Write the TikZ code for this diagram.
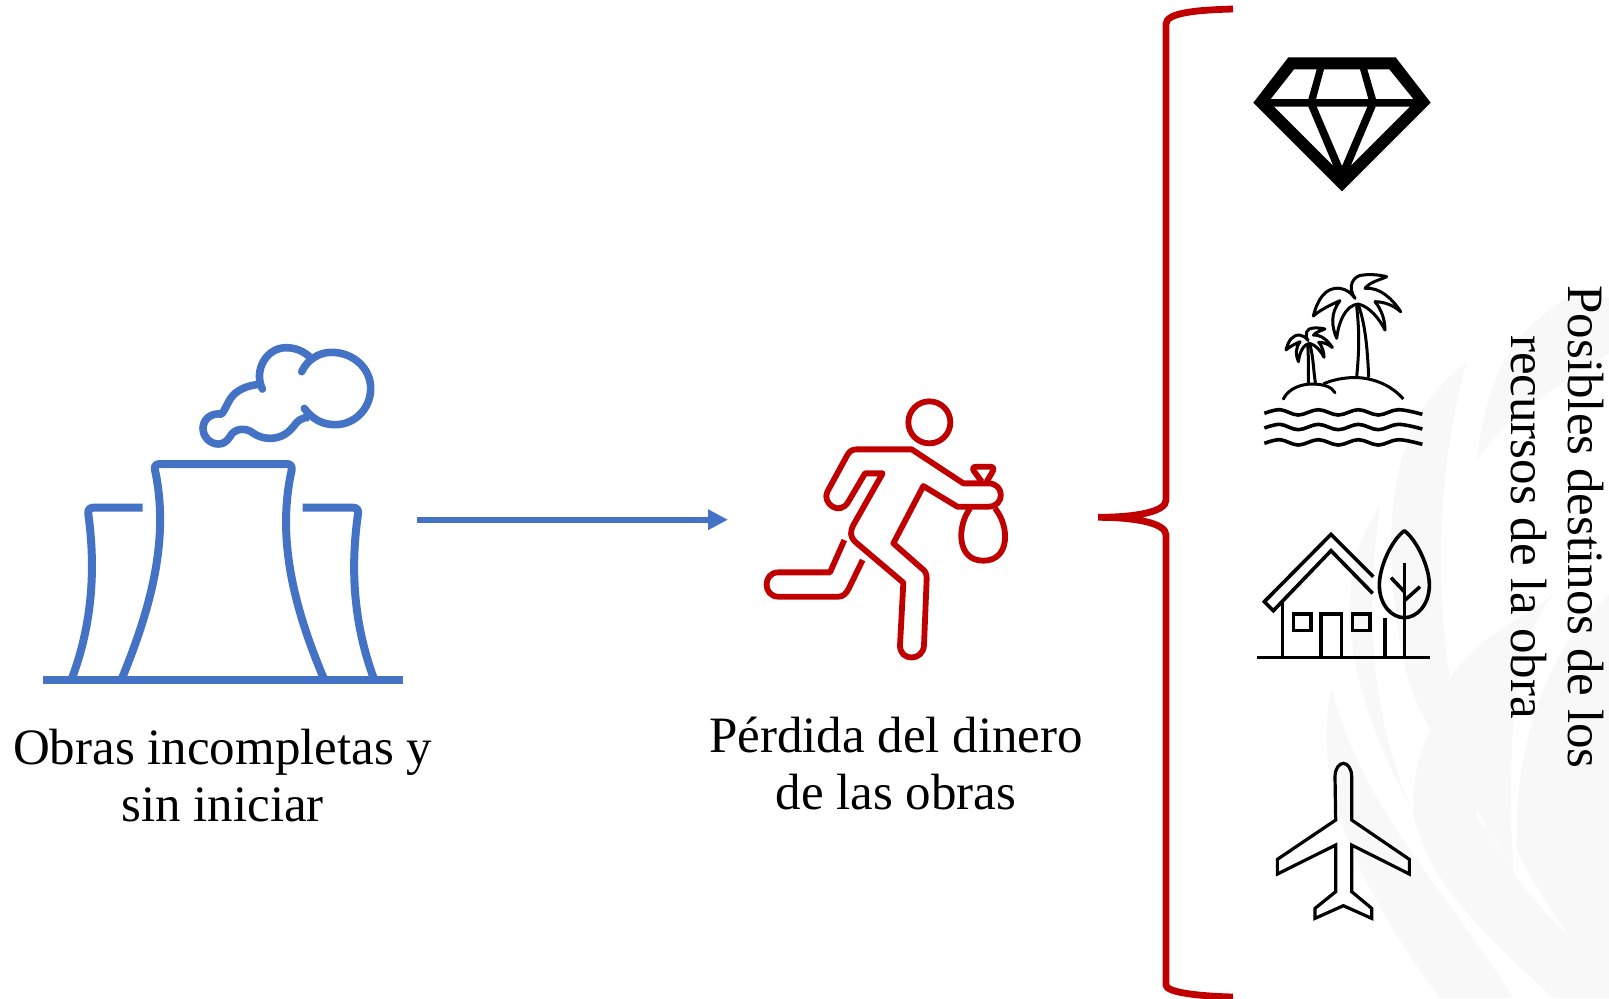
\documentclass[tikz,border=0pt]{standalone}
\usepackage{fontspec}
\setmainfont{Liberation Serif}
\usetikzlibrary{arrows.meta}
\definecolor{planblue}{HTML}{4472C4}
\definecolor{thiefred}{HTML}{C00000}
\definecolor{wm}{HTML}{F8F8F8}
\tikzset{
  plantline/.style={draw=planblue,line width=4pt,line join=round},
  smokeline/.style={draw=planblue,line width=3.8pt,line join=round,line cap=round},
  thiefline/.style={draw=thiefred,line width=2.9pt,line join=round},
  iconline/.style={draw=black,line width=1.8pt,line join=miter},
  palmline/.style={draw=black,line width=1.5pt,line join=round,line cap=round},
  label/.style={font=\fontsize{25.5}{28.5}\selectfont,align=center,inner sep=0pt,text=black},
  wmleaf/.style={fill=wm,draw=none},
}
\newcommand{\palmicon}{%
  \draw[palmline]
    (375,805) .. controls (350,770) and (370,735) .. (400,735)
    .. controls (425,732) and (450,735) .. (470,740)
    .. controls (450,750) and (420,755) .. (405,775)
    .. controls (450,770) and (490,810) .. (512,845)
    .. controls (490,825) and (460,815) .. (435,815)
    .. controls (455,840) and (465,870) .. (465,900)
    .. controls (450,870) and (420,830) .. (385,822)
    .. controls (345,825) and (325,880) .. (320,925)
    .. controls (305,890) and (300,850) .. (330,812)
    .. controls (300,825) and (270,840) .. (250,858)
    .. controls (262,810) and (285,770) .. (330,775)
    .. controls (350,778) and (365,790) .. (375,805);
}
\begin{document}
\begin{tikzpicture}[x=0.5pt,y=-0.5pt]
\useasboundingbox (0,0) rectangle (1609,998);
\fill[white] (0,0) rectangle (1609,998);
% watermark
\begin{scope}[shift={(1300,270)},x=0.16667pt,y=-0.2321pt]
  \clip (-100,0) rectangle (927,1568);
  \fill[wmleaf] (95,900) .. controls (50,1050) and (90,1250) .. (420,1568) -- (640,1568)
     .. controls (400,1300) and (180,1150) .. (95,900) -- cycle;
  \fill[wmleaf] (240,510) .. controls (110,640) and (100,850) .. (340,1170)
     .. controls (330,1030) and (440,900) .. (520,900)
     .. controls (520,1000) and (500,1200) .. (560,1200)
     .. controls (640,1320) and (800,1450) .. (927,1500) -- (927,1568) -- (760,1568)
     .. controls (500,1400) and (380,1300) .. (340,1170)
     .. controls (200,950) and (200,700) .. (240,510) -- cycle;
  \fill[wmleaf] (500,200) .. controls (300,300) and (230,500) .. (300,800)
     .. controls (330,960) and (450,1050) .. (640,1300)
     .. controls (620,1000) and (640,800) .. (760,700)
     .. controls (640,760) and (520,800) .. (450,880)
     .. controls (400,650) and (420,400) .. (500,200) -- cycle;
  \fill[wmleaf] (800,60) .. controls (600,150) and (560,260) .. (530,410)
     .. controls (640,300) and (760,260) .. (927,180) -- (927,700)
     .. controls (760,800) and (640,1000) .. (650,1250)
     .. controls (800,1450) and (880,1500) .. (927,1520) -- (927,60) -- cycle;
\end{scope}
% plant
\coordinate (plantanchor) at (417,519.7);
\coordinate (thiefanchor) at (728,519.7);
\draw[plantline] (42.7,680) -- (402.7,680);
\draw[plantline] (121.7,679) .. controls (150,610) and (170,540) .. (155,470)
   .. controls (154,466) and (156,464) .. (160,464) -- (286.7,464)
   .. controls (290.7,464) and (292,466) .. (291.7,470)
   .. controls (276,540) and (295,610) .. (324,679);
\draw[plantline] (142.7,507.7) -- (93.3,507.7)
   .. controls (89.5,507.7) and (87.8,510) .. (88.3,514)
   .. controls (96,570) and (92,625) .. (71.7,679);
\draw[plantline] (302.7,507.7) -- (353.3,507.7)
   .. controls (357,507.7) and (358.5,510) .. (358,514)
   .. controls (350,570) and (354,625) .. (374,679);
\begin{scope}[shift={(20,320)},x=0.16667pt,y=-0.16667pt]
  \draw[smokeline] (727,207) .. controls (700,150) and (740,83) .. (798,83) .. controls (825,83) and (850,93) .. (868,110);
  \draw[smokeline] (845,155) .. controls (862,120) and (895,97) .. (935,97)
     .. controls (1000,97) and (1052,145) .. (1052,205)
     .. controls (1052,265) and (1005,314) .. (945,314)
     .. controls (905,314) and (875,295) .. (853,265);
  \draw[smokeline,line cap=butt] (868,293) .. controls (845,290) and (830,305) .. (820,320)
     .. controls (800,345) and (775,355) .. (750,355)
     .. controls (720,355) and (700,340) .. (690,333)
     .. controls (665,322) and (640,330) .. (630,350)
     .. controls (620,365) and (610,372) .. (595,372)
     .. controls (570,372) and (549,350) .. (549,325)
     .. controls (549,300) and (570,278) .. (605,282)
     .. controls (620,262) and (625,240) .. (640,225)
     .. controls (660,205) and (690,195) .. (720,193);
\end{scope}
% arrow
\draw[draw=planblue,line width=3.1pt,-{Triangle[length=10pt,width=9.7pt]}] (plantanchor) -- (thiefanchor);
% thief
\begin{scope}[shift={(740,380)},x=0.16667pt,y=-0.16667pt]
  \node[circle,draw=thiefred,line width=2.9pt,minimum size=21pt,inner sep=0pt] (thiefhead) at (568,127) {};
  \draw[thiefline] (670,310) -- (515,208) -- (350,208)
     .. controls (335,208) and (328,215) .. (322,225) -- (262,335)
     .. controls (245,370) and (300,410) .. (325,365) -- (375,280) -- (428,280) -- (340,435)
     .. controls (330,455) and (330,470) .. (345,485) -- (490,608) -- (480,795)
     .. controls (478,845) and (550,845) .. (552,795) -- (560,595)
     .. controls (560,580) and (555,572) .. (545,565) -- (460,490) -- (550,318) -- (652,380) -- (745,380)
     .. controls (795,380) and (795,310) .. (745,310) -- cycle;
  \draw[thiefline] (313,480) -- (270,577) -- (115,577)
     .. controls (68,577) and (68,650) .. (115,650) -- (295,650)
     .. controls (310,650) and (318,640) .. (325,628) -- (368,540);
  \draw[thiefline] (725,305) -- (703,275) .. controls (695,265) and (700,260) .. (710,260) -- (750,260)
     .. controls (762,260) and (762,268) .. (757,276) -- (740,305);
  \draw[thiefline] (690,385) .. controls (650,440) and (650,542) .. (730,542)
     .. controls (810,542) and (810,440) .. (765,385);
\end{scope}
% brace
\draw[draw=thiefred,line width=3.4pt] (1233,9) .. controls (1195,10) and (1166,13) .. (1166,24) -- (1166,500)
   .. controls (1166,512) and (1135,517.3) .. (1098,517.3)
   .. controls (1135,517.3) and (1166,523) .. (1166,535) -- (1166,985)
   .. controls (1166,992) and (1195,996) .. (1233,997);
% diamond
\begin{scope}[shift={(1230,30)},x=0.16667pt,y=-0.16667pt]
  \fill[black,even odd rule] (175,82) -- (497,82) -- (602,218) -- (336,484) -- (70,218) -- cycle
    (192,118) -- (260,118) -- (235,207) -- (122,207) -- cycle
    (282,118) -- (390,118) -- (415,207) -- (258,207) -- cycle
    (412,118) -- (478,118) -- (550,207) -- (438,207) -- cycle
    (132,230) -- (235,230) -- (310,408) -- cycle
    (260,230) -- (412,230) -- (336,408) -- cycle
    (437,230) -- (540,230) -- (362,408) -- cycle;
  % palms
  \palmicon
  \begin{scope}[shift={(237,942)},scale=.53,shift={(-380,-825)}]
    \palmicon
  \end{scope}
  \draw[palmline] (380,1040) .. controls (388,960) and (388,900) .. (380,830);
  \draw[palmline] (416,1040) .. controls (412,950) and (405,880) .. (385,825);
  \draw[palmline] (235,1060) .. controls (235,1020) and (236,980) .. (233,945);
  \draw[palmline] (256,1058) .. controls (250,1020) and (250,980) .. (240,945);
  \draw[palmline,line cap=butt] (520,1107) .. controls (470,1050) and (400,1040) .. (360,1043) .. controls (330,1045) and (300,1052) .. (280,1062);
  \draw[palmline] (160,1107) .. controls (175,1075) and (215,1062) .. (245,1062) .. controls (280,1062) and (305,1070) .. (315,1088);
  \foreach \yy in {1150,1194,1240}{
    \draw[palmline,line width=1.8pt,line cap=butt] plot[smooth,tension=.6] coordinates {(103,\yy) (150,\yy-11) (205,\yy+5) (265,\yy-11) (325,\yy+5) (385,\yy-11) (445,\yy+5) (505,\yy-11) (577,\yy+3)};
  }
\end{scope}
% house and plane
\begin{scope}[shift={(1230,510)},x=0.16667pt,y=-0.16667pt]
  \draw[iconline] (430,200) -- (303,73) -- (103,275) -- (130,302) -- (303,122) -- (428,250);
  \draw[iconline] (157,275) -- (157,443);
  \draw[iconline] (80,443) -- (600,443);
  \draw[iconline] (465,325) -- (465,443);
  \draw[iconline] (190,312) rectangle (243,362);
  \draw[iconline] (367,312) rectangle (420,362);
  \draw[iconline] (273,443) -- (273,312) -- (335,312) -- (335,443);
  \draw[iconline] (523,160) -- (523,443);
  \draw[iconline] (483,203) -- (523,245);
  \draw[iconline] (570,230) -- (523,272);
  \draw[iconline,line join=round] (523,62) .. controls (560,90) and (598,170) .. (598,225)
     .. controls (598,285) and (560,323) .. (523,323)
     .. controls (485,323) and (448,285) .. (448,225)
     .. controls (448,170) and (485,90) .. (523,62) -- cycle;
  \draw[iconline,line width=1.6pt] (315,800) .. controls (315,775) and (328,760) .. (340,760)
     .. controls (352,760) and (365,775) .. (365,800)
     -- (365,930) -- (538,1048) -- (538,1092) -- (365,1005) -- (365,1145) -- (425,1195) -- (425,1225)
     -- (340,1187) -- (255,1225) -- (255,1195) -- (317,1145) -- (317,1005) -- (142,1092) -- (142,1048)
     -- (317,930) -- cycle;
\end{scope}
% labels
\node[label,anchor=north] (plantlabel) at (222.7,729) {Obras incompletas y\\sin iniciar};
\node[label,anchor=north] (thieflabel) at (896,717) {Pérdida del dinero\\de las obras};
\node[label,rotate=-90] (destlabel) at (1557,527) {Posibles destinos de los\\recursos de la obra};
\end{tikzpicture}
\end{document}
